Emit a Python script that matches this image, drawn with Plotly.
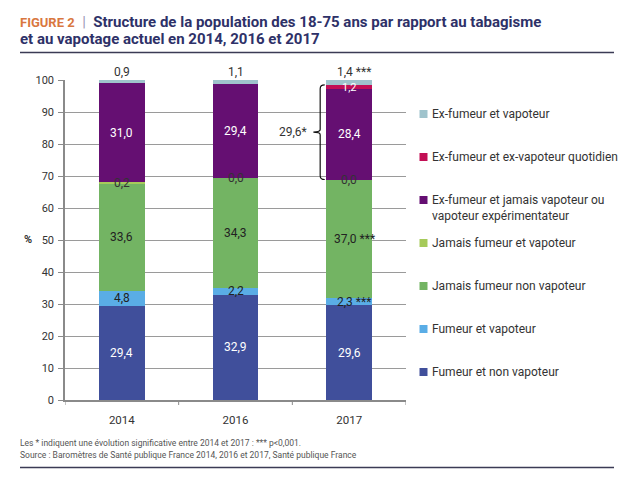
import plotly.graph_objects as go

# ---------------- data ----------------
years = ["2014", "2016", "2017"]
fumeur_non_vapoteur = [29.4, 32.9, 29.6]
fumeur_vapoteur = [4.8, 2.2, 2.3]
jamais_fumeur_non_vapoteur = [33.6, 34.3, 37.0]
jamais_fumeur_vapoteur = [0.2, 0.0, 0.0]
ex_fumeur_jamais_vapoteur = [31.0, 29.4, 28.4]
ex_fumeur_ex_vapoteur_quotidien = [0.0, 0.0, 1.2]
ex_fumeur_vapoteur = [0.9, 1.1, 1.4]

series_names = [
    "Fumeur et non vapoteur",
    "Fumeur et vapoteur",
    "Jamais fumeur non vapoteur",
    "Jamais fumeur et vapoteur",
    "Ex-fumeur et jamais vapoteur ou vapoteur expérimentateur",
    "Ex-fumeur et ex-vapoteur quotidien",
    "Ex-fumeur et vapoteur",
]
legend_labels = [
    "Fumeur et non vapoteur",
    "Fumeur et vapoteur",
    "Jamais fumeur non vapoteur",
    "Jamais fumeur et vapoteur",
    "Ex-fumeur et jamais vapoteur ou<br>vapoteur expérimentateur",
    "Ex-fumeur et ex-vapoteur quotidien",
    "Ex-fumeur et vapoteur",
]
# significance markers (2014 vs 2017)
significance = [
    ["", "", ""],
    ["", "", "***"],
    ["", "", "***"],
    ["", "", ""],
    ["", "", ""],
    ["", "", ""],
    ["", "", "***"],
]
y_ticks = list(range(0, 101, 10))

# ---------------- style ----------------
colors = ["#404f9b", "#5aade6", "#73b463", "#a6ca5a", "#650f72", "#c20f55", "#9fc3cc"]
label_colors = ["white", "#222222", "#222222", "#222222", "white", "white", "#222222"]
FONT = "Roboto, Liberation Sans, sans-serif"
TXT = "#333333"

series = [fumeur_non_vapoteur, fumeur_vapoteur, jamais_fumeur_non_vapoteur,
          jamais_fumeur_vapoteur, ex_fumeur_jamais_vapoteur,
          ex_fumeur_ex_vapoteur_quotidien, ex_fumeur_vapoteur]

# plot area geometry in pixels
W, H = 629, 480
L, R, T, B = 57, 398, 72, 392
BAR_W = 0.40


def px2x(px):
    return (px - L) / (R - L)


def py2y(py):
    return (B - py) / (B - T)


def fmt(v):
    return f"{v:.1f}".replace(".", ",")


xs = list(range(len(years)))

fig = go.Figure()
for name, vals, col in zip(series_names, series, colors):
    fig.add_trace(go.Bar(
        x=xs, y=vals, name=name, marker=dict(color=col, line=dict(width=0)),
        width=BAR_W, showlegend=False, hovertemplate="%{y}<extra>" + name + "</extra>",
    ))

annotations = []
shapes = []

# ---------------- data labels ----------------
LBL = 12
n_series = len(series)
for j in range(len(years)):
    base = 0.0
    for i in range(n_series):
        v = series[i][j]
        top = base + v
        sig = significance[i][j]
        text = fmt(v) + ((" " + sig) if sig else "")
        xshift = 5 if sig else 0
        if i == n_series - 1:
            # above the bar
            annotations.append(dict(x=j, y=top, xref="x", yref="y", text=text,
                                    showarrow=False, yanchor="bottom", xshift=xshift, yshift=-1,
                                    font=dict(family=FONT, size=LBL, color=TXT)))
        elif i == 3:
            # tiny segment: label on the boundary
            annotations.append(dict(x=j, y=base, xref="x", yref="y", text=text,
                                    showarrow=False, yanchor="middle", xshift=xshift,
                                    font=dict(family=FONT, size=LBL, color=TXT)))
        elif v > 0:
            size = LBL if v > 3 or i != 5 else 11
            annotations.append(dict(x=j, y=base + v / 2, xref="x", yref="y", text=text,
                                    showarrow=False, yanchor="middle", xshift=xshift,
                                    yshift=-1 if i == 5 else 0,
                                    font=dict(family=FONT, size=size, color=label_colors[i])))
        base = top

# ---------------- brace on 2017 ----------------
jb = 2
yb = sum(series[i][jb] for i in range(4))
yt = yb + series[4][jb] + series[5][jb]
ym = (yb + yt) / 2
xv = jb - BAR_W / 2 - 0.055
xr = jb - BAR_W / 2 - 0.015
xn = xv - 0.06
path = (f"M {xr},{yt} Q {xv},{yt} {xv},{yt-1.2} L {xv},{ym+0.8} "
        f"Q {xv},{ym} {xn},{ym} Q {xv},{ym} {xv},{ym-0.8} "
        f"L {xv},{yb+1.2} Q {xv},{yb} {xr},{yb}")
shapes.append(dict(type="path", path=path, xref="x", yref="y",
                   line=dict(color="#111111", width=1.2)))
annotations.append(dict(x=xn - 0.04, y=ym, xref="x", yref="y",
                        text=fmt(series[4][jb] + series[5][jb]) + "*",
                        showarrow=False, xanchor="right", yanchor="middle",
                        font=dict(family=FONT, size=LBL, color=TXT)))

# ---------------- manual legend ----------------
leg_y0, leg_step = 106.0, 43.0
for k, i in enumerate(range(n_series - 1, -1, -1)):
    cy = leg_y0 + k * leg_step
    shapes.append(dict(type="rect", xref="paper", yref="paper",
                       x0=px2x(411.5), x1=px2x(419.5), y0=py2y(cy + 4), y1=py2y(cy - 4),
                       fillcolor=colors[i], line=dict(width=0)))
    annotations.append(dict(x=px2x(422), y=py2y(cy - 9), xref="paper", yref="paper",
                            text=legend_labels[i], showarrow=False, xanchor="left",
                            yanchor="top", align="left",
                            font=dict(family=FONT, size=12, color=TXT)))

# ---------------- titles / notes ----------------
TITLE_C = "#2e3168"
annotations.append(dict(
    x=px2x(10), y=py2y(14), xref="paper", yref="paper", xanchor="left", yanchor="middle",
    showarrow=False,
    text=("<b><span style='color:#d9773f;font-size:13px'>FIGURE 2</span></b>"
          "<span style='color:#9a9ab5'>  |  </span>"
          "<b>Structure de la population des 18-75 ans par rapport au tabagisme</b>"),
    font=dict(family=FONT, size=15, color=TITLE_C)))
annotations.append(dict(
    x=px2x(10), y=py2y(31), xref="paper", yref="paper", xanchor="left", yanchor="middle",
    showarrow=False, text="<b>et au vapotage actuel en 2014, 2016 et 2017</b>",
    font=dict(family=FONT, size=15, color=TITLE_C)))
annotations.append(dict(
    x=px2x(10), y=py2y(435), xref="paper", yref="paper", xanchor="left", yanchor="middle",
    showarrow=False, text="Les * indiquent une évolution significative entre 2014 et 2017 : *** p<0,001.",
    font=dict(family=FONT, size=8.5, color="#555555")))
annotations.append(dict(
    x=px2x(10), y=py2y(447), xref="paper", yref="paper", xanchor="left", yanchor="middle",
    showarrow=False, text="Source : Baromètres de Santé publique France 2014, 2016 et 2017, Santé publique France",
    font=dict(family=FONT, size=8.5, color="#555555")))
annotations.append(dict(
    x=px2x(20), y=py2y(231), xref="paper", yref="paper", xanchor="center", yanchor="middle",
    showarrow=False, text="<b>%</b>", font=dict(family=FONT, size=11, color=TXT)))

for ry in (44.5, 459.5):
    shapes.append(dict(type="line", xref="paper", yref="paper",
                       x0=px2x(12), x1=px2x(606), y0=py2y(ry), y1=py2y(ry),
                       line=dict(color="#3b3b55", width=1.5)))

# boundary tick marks on x axis
for bx in [-0.5, 0.5, 1.5, 2.5]:
    shapes.append(dict(type="line", xref="x", yref="paper", x0=bx, x1=bx,
                       y0=0, y1=-5 / (B - T), line=dict(color="#8a8a8a", width=1)))

fig.update_layout(
    width=W, height=H,
    margin=dict(l=L, r=W - R, t=T, b=H - B, pad=0),
    barmode="stack",
    plot_bgcolor="white", paper_bgcolor="white",
    font=dict(family=FONT, size=12, color=TXT),
    annotations=annotations, shapes=shapes,
    showlegend=False,
)
fig.update_xaxes(
    range=[-0.5, 2.5], tickmode="array", tickvals=xs, ticktext=years,
    showgrid=False, zeroline=False, showline=True, linecolor="#8a8a8a", linewidth=1.5,
    ticks="", tickfont=dict(family=FONT, size=11.5, color=TXT), ticklabelstandoff=8,
    fixedrange=True,
)
fig.update_yaxes(
    range=[0, 100], tickmode="array", tickvals=y_ticks,
    showgrid=True, gridcolor="#9a9a9a", gridwidth=1, zeroline=False,
    showline=True, linecolor="#8a8a8a", linewidth=1.5,
    ticks="outside", ticklen=5, tickcolor="#8a8a8a", ticklabelstandoff=2,
    tickfont=dict(family=FONT, size=11, color=TXT), fixedrange=True,
)

fig.write_html("out.html")
